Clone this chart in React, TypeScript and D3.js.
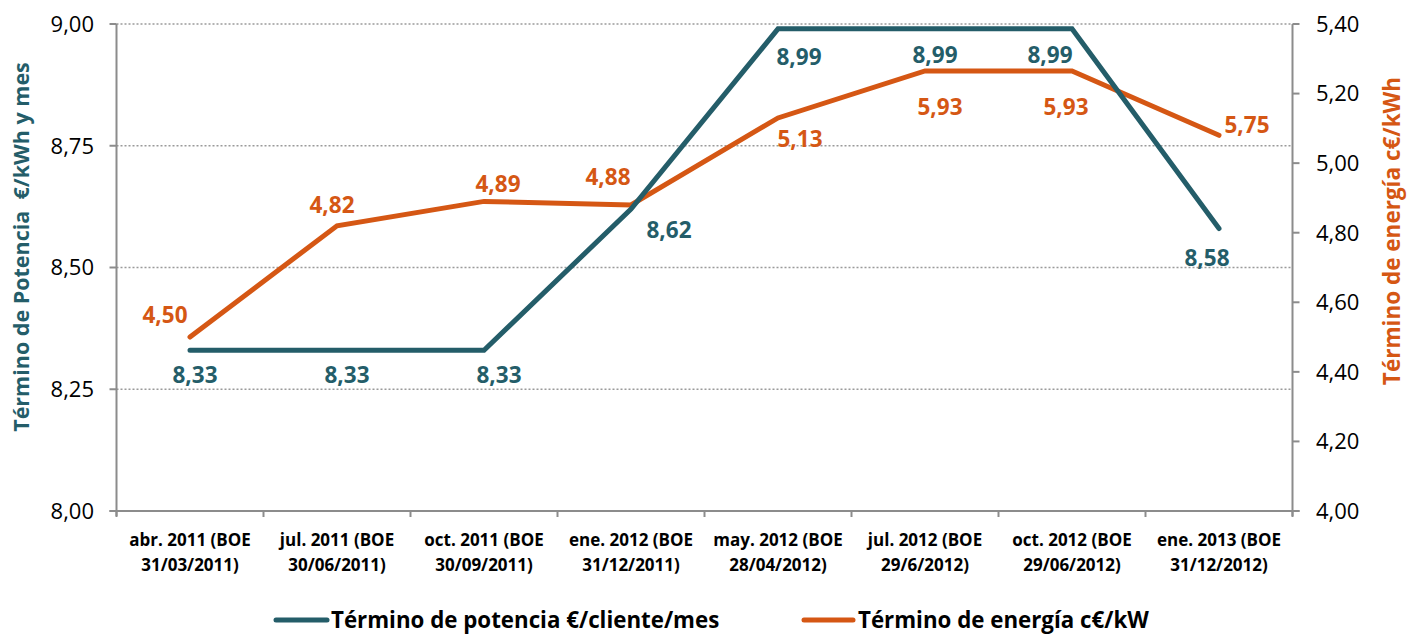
import React from "react";
import * as d3 from "d3";

const catLine1 = [
  "abr. 2011 (BOE",
  "jul. 2011 (BOE",
  "oct. 2011 (BOE",
  "ene. 2012 (BOE",
  "may. 2012 (BOE",
  "jul. 2012 (BOE",
  "oct. 2012 (BOE",
  "ene. 2013 (BOE",
];
const catLine2 = [
  "31/03/2011)",
  "30/06/2011)",
  "30/09/2011)",
  "31/12/2011)",
  "28/04/2012)",
  "29/6/2012)",
  "29/06/2012)",
  "31/12/2012)",
];
const potencia = [8.33, 8.33, 8.33, 8.62, 8.99, 8.99, 8.99, 8.58];
const energia = [4.5, 4.82, 4.89, 4.88, 5.13, 5.265, 5.265, 5.08];
const energiaLabels = ["4,50", "4,82", "4,89", "4,88", "5,13", "5,93", "5,93", "5,75"];
const leftTicks = [8.0, 8.25, 8.5, 8.75, 9.0];
const rightTicks = [4.0, 4.2, 4.4, 4.6, 4.8, 5.0, 5.2, 5.4];

// label offsets (style only)
const potOff = [[5, 25], [10, 25], [15, 25], [38, 21], [21, 28], [10, 26], [-22, 26], [-12, 29]];
const eneOff = [[-25, -22], [-5, -21], [14, -18], [-23, -28], [22, 21], [15, 36], [-6, 36], [28, -10]];

const TEAL = "#245D69";
const ORANGE = "#D55714";
const AXIS = "#8C8C8C";
const FONT = "'Open Sans', sans-serif";

const W = 1407;
const H = 635;
const L = 116.5;
const R = 1292.5;
const T = 24;
const B = 511;

export default function App() {
  const x = d3.scaleBand<string>().domain(catLine1.map((_, i) => String(i))).range([L, R]);
  const cx = (i: number) => (x(String(i)) as number) + x.bandwidth() / 2;
  const yL = d3.scaleLinear().domain([8, 9]).range([B, T]);
  const yR = d3.scaleLinear().domain([4, 5.4]).range([B, T]);
  const fmt = (v: number, d: number) => v.toFixed(d).replace(".", ",");

  const linePot = d3.line<number>().x((_, i) => cx(i)).y((d) => yL(d));
  const lineEne = d3.line<number>().x((_, i) => cx(i)).y((d) => yR(d));

  const boundaries = d3.range(catLine1.length + 1).map((i) =>
    i < catLine1.length ? (x(String(i)) as number) : R
  );

  return (
    <svg
      width={W}
      height={H}
      style={{ position: "absolute", left: 0, top: 0, background: "#fff" }}
      fontFamily={FONT}
    >
      {/* gridlines */}
      {leftTicks.slice(1).map((t) => (
        <line
          key={"g" + t}
          x1={L}
          x2={R}
          y1={yL(t)}
          y2={yL(t)}
          stroke="#9A9A9A"
          strokeWidth={1.5}
          strokeDasharray="2,2"
        />
      ))}
      {/* axes */}
      <line x1={L} x2={L} y1={T} y2={B + 5} stroke={AXIS} strokeWidth={2} />
      <line x1={R} x2={R} y1={T} y2={B + 5} stroke={AXIS} strokeWidth={2} />
      <line x1={L - 7} x2={R + 7} y1={B} y2={B} stroke={AXIS} strokeWidth={2} />
      {leftTicks.map((t) => (
        <g key={"lt" + t}>
          <line x1={L - 7} x2={L} y1={yL(t)} y2={yL(t)} stroke={AXIS} strokeWidth={2} />
          <text x={94} y={yL(t)} dy="0.36em" textAnchor="end" fontSize={22} fill="#000">
            {fmt(t, 2)}
          </text>
        </g>
      ))}
      {rightTicks.map((t) => (
        <g key={"rt" + t}>
          <line x1={R} x2={R + 7} y1={yR(t)} y2={yR(t)} stroke={AXIS} strokeWidth={2} />
          <text x={1316} y={yR(t)} dy="0.36em" textAnchor="start" fontSize={22} fill="#000">
            {fmt(t, 2)}
          </text>
        </g>
      ))}
      {boundaries.map((b, i) => (
        <line key={"bt" + i} x1={b} x2={b} y1={B} y2={B + 6} stroke={AXIS} strokeWidth={2} />
      ))}
      {catLine1.map((c, i) => (
        <text key={"c" + i} x={cx(i)} textAnchor="middle" fontSize={17} fontWeight="bold" fill="#000">
          <tspan x={cx(i)} y={546}>{c}</tspan>
          <tspan x={cx(i)} y={571}>{catLine2[i]}</tspan>
        </text>
      ))}

      {/* lines */}
      <path d={lineEne(energia) || ""} fill="none" stroke={ORANGE} strokeWidth={5} strokeLinecap="round" />
      <path d={linePot(potencia) || ""} fill="none" stroke={TEAL} strokeWidth={5} strokeLinecap="round" />

      {/* labels */}
      {potencia.map((v, i) => (
        <text
          key={"pl" + i}
          x={cx(i) + potOff[i][0]}
          y={yL(v) + potOff[i][1]}
          dy="0.36em"
          textAnchor="middle"
          fontSize={22.5}
          fontWeight="bold"
          fill={TEAL}
        >
          {fmt(v, 2)}
        </text>
      ))}
      {energia.map((v, i) => (
        <text
          key={"el" + i}
          x={cx(i) + eneOff[i][0]}
          y={yR(v) + eneOff[i][1]}
          dy="0.36em"
          textAnchor="middle"
          fontSize={22.5}
          fontWeight="bold"
          fill={ORANGE}
        >
          {energiaLabels[i]}
        </text>
      ))}

      {/* axis titles */}
      <text
        transform={`translate(21,${247}) rotate(-90)`}
        textAnchor="middle"
        dy="0.36em"
        fontSize={21.5}
        fontWeight="bold"
        fill={TEAL}
        style={{ whiteSpace: "pre" }}
      >
        {"Término de Potencia  €/kWh y mes"}
      </text>
      <text
        transform={`translate(1392,${231}) rotate(-90)`}
        textAnchor="middle"
        dy="0.36em"
        fontSize={22.5}
        fontWeight="bold"
        fill={ORANGE}
      >
        Término de energía c€/kWh
      </text>

      {/* legend */}
      <line x1={276} x2={327} y1={620} y2={620} stroke={TEAL} strokeWidth={5} strokeLinecap="round" />
      <text x={331} y={620} dy="0.36em" fontSize={22.3} fontWeight="bold" fill="#000">
        Término de potencia €/cliente/mes
      </text>
      <line x1={804} x2={853} y1={620} y2={620} stroke={ORANGE} strokeWidth={5} strokeLinecap="round" />
      <text x={858} y={620} dy="0.36em" fontSize={22.3} fontWeight="bold" fill="#000">
        Término de energía c€/kW
      </text>
    </svg>
  );
}
